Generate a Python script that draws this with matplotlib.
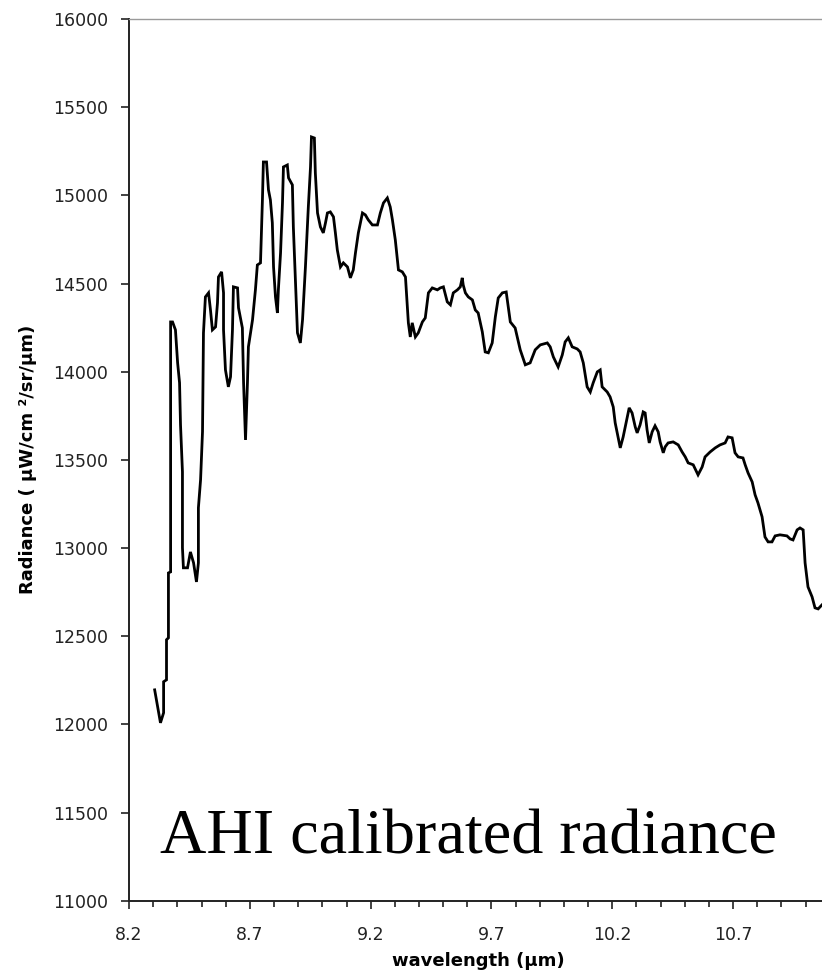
import matplotlib

matplotlib.use("Agg")
import matplotlib.pyplot as plt
from matplotlib.ticker import MultipleLocator

plt.rcParams.update({"font.family": ["DejaVu Sans"]})

# spectrum
wavelength = [
    8.306, 8.330, 8.343, 8.343, 8.355, 8.355, 8.363, 8.363, 8.372, 8.372,
    8.380, 8.392, 8.401, 8.409, 8.413, 8.421, 8.421, 8.425, 8.442, 8.454,
    8.467, 8.479, 8.487, 8.487, 8.496, 8.504, 8.508, 8.516, 8.529, 8.537,
    8.545, 8.558, 8.566, 8.570, 8.583, 8.591, 8.591, 8.599, 8.611, 8.620,
    8.628, 8.632, 8.649, 8.653, 8.669, 8.674, 8.682, 8.690, 8.694, 8.711,
    8.723, 8.731, 8.744, 8.752, 8.756, 8.769, 8.777, 8.785, 8.793, 8.798,
    8.806, 8.814, 8.818, 8.827, 8.835, 8.839, 8.855, 8.860, 8.876, 8.880,
    8.889, 8.897, 8.909, 8.918, 8.930, 8.942, 8.951, 8.955, 8.967, 8.971,
    8.980, 8.992, 9.004, 9.013, 9.021, 9.033, 9.046, 9.054, 9.062, 9.075,
    9.087, 9.104, 9.116, 9.128, 9.137, 9.149, 9.166, 9.178, 9.190, 9.207,
    9.228, 9.240, 9.253, 9.269, 9.281, 9.290, 9.302, 9.315, 9.331, 9.344,
    9.356, 9.364, 9.372, 9.385, 9.397, 9.414, 9.426, 9.439, 9.455, 9.476,
    9.488, 9.501, 9.517, 9.530, 9.542, 9.559, 9.571, 9.579, 9.583, 9.592,
    9.604, 9.621, 9.633, 9.645, 9.662, 9.674, 9.687, 9.703, 9.716, 9.728,
    9.745, 9.761, 9.778, 9.798, 9.819, 9.840, 9.860, 9.881, 9.902, 9.931,
    9.943, 9.956, 9.976, 9.993, 10.005, 10.018, 10.034, 10.055, 10.067, 10.080,
    10.096, 10.109, 10.121, 10.138, 10.150, 10.158, 10.179, 10.191, 10.204, 10.212,
    10.224, 10.233, 10.245, 10.262, 10.270, 10.282, 10.295, 10.303, 10.315, 10.328,
    10.336, 10.344, 10.353, 10.365, 10.377, 10.390, 10.398, 10.411, 10.419, 10.431,
    10.452, 10.473, 10.489, 10.502, 10.514, 10.535, 10.555, 10.572, 10.584, 10.605,
    10.626, 10.646, 10.667, 10.679, 10.696, 10.708, 10.721, 10.741, 10.750, 10.762,
    10.779, 10.791, 10.803, 10.820, 10.832, 10.845, 10.861, 10.874, 10.894, 10.923,
    10.936, 10.948, 10.965, 10.977, 10.990, 10.998, 11.010, 11.027, 11.039, 11.052,
    11.068,
]
radiance = [
    12196, 12009, 12066, 12242, 12253, 12480, 12491, 12859, 12865, 14282,
    14282, 14237, 14050, 13937, 13698, 13432, 13001, 12888, 12888, 12978,
    12916, 12808, 12916, 13228, 13387, 13659, 14220, 14424, 14447, 14350,
    14237, 14254, 14390, 14537, 14566, 14447, 14237, 14010, 13914, 13971,
    14237, 14481, 14475, 14362, 14248, 13937, 13613, 13937, 14141, 14294,
    14464, 14605, 14617, 14974, 15189, 15189, 15031, 14974, 14844, 14594,
    14424, 14333, 14464, 14673, 14957, 15161, 15172, 15099, 15059, 14821,
    14503, 14220, 14163, 14294, 14594, 14934, 15161, 15331, 15325, 15127,
    14900, 14821, 14787, 14844, 14900, 14906, 14878, 14787, 14690, 14594,
    14617, 14594, 14532, 14577, 14673, 14787, 14900, 14889, 14861, 14832,
    14832, 14900, 14957, 14985, 14934, 14861, 14747, 14577, 14566, 14537,
    14277, 14197, 14277, 14197, 14220, 14282, 14305, 14447, 14475, 14464,
    14475, 14481, 14396, 14379, 14447, 14464, 14481, 14532, 14492, 14447,
    14424, 14407, 14350, 14333, 14226, 14112, 14107, 14163, 14311, 14418,
    14447, 14452, 14282, 14248, 14124, 14039, 14050, 14124, 14152, 14163,
    14141, 14084, 14027, 14095, 14169, 14192, 14141, 14129, 14112, 14050,
    13914, 13885, 13937, 13999, 14010, 13914, 13885, 13857, 13800, 13710,
    13630, 13568, 13630, 13744, 13795, 13766, 13687, 13653, 13698, 13772,
    13766, 13670, 13596, 13659, 13693, 13659, 13602, 13540, 13574, 13596,
    13602, 13585, 13545, 13517, 13483, 13472, 13415, 13460, 13517, 13545,
    13568, 13585, 13596, 13630, 13625, 13540, 13517, 13511, 13472, 13426,
    13375, 13302, 13256, 13177, 13063, 13035, 13035, 13069, 13075, 13069,
    13052, 13046, 13103, 13114, 13103, 12916, 12780, 12723, 12661, 12655,
    12678,
]

x_ticks = [8.2, 8.7, 9.2, 9.7, 10.2, 10.7]
y_ticks = [11000, 11500, 12000, 12500, 13000, 13500, 14000, 14500, 15000, 15500, 16000]

fig = plt.figure(figsize=(8.22, 9.77), dpi=100, facecolor="white")
ax = fig.add_axes([0.157, 0.078, 0.843, 0.9026])

ax.plot(wavelength, radiance, color="black", linewidth=2.0, solid_joinstyle="miter")

ax.set_xlim(8.2, 11.068)
ax.set_ylim(11000, 16000)
ax.set_xticks(x_ticks)
ax.set_xticklabels([f"{v:.1f}" for v in x_ticks])
ax.xaxis.set_minor_locator(MultipleLocator(0.1))
ax.set_yticks(y_ticks)
ax.set_yticklabels([str(v) for v in y_ticks])

ax.spines["right"].set_visible(False)
ax.spines["top"].set_color("#9a9a9a")
ax.spines["top"].set_linewidth(1.0)
for side in ("left", "bottom"):
    ax.spines[side].set_color("#222222")
    ax.spines[side].set_linewidth(1.4)

ax.tick_params(axis="y", direction="out", length=6, width=1.2, color="#222222",
               labelsize=12.5, labelcolor="#222222", pad=9)
ax.tick_params(axis="x", which="major", direction="out", length=6, width=1.2,
               color="#222222", labelsize=12.5, labelcolor="#222222", pad=12)
ax.tick_params(axis="x", which="minor", direction="out", length=4, width=1.2, color="#222222")

ax.set_xlabel("wavelength (µm)", fontsize=13, fontweight="bold")
ax.xaxis.set_label_coords(0.504, -0.058)
ax.set_ylabel("Radiance ( µW/cm ²/sr/µm)", fontsize=13, fontweight="bold")
ax.yaxis.set_label_coords(-0.133, 0.5)

ax.text(0.045, 0.054, "AHI calibrated radiance", transform=ax.transAxes,
        fontsize=46.2, family=["Liberation Serif", "DejaVu Serif"], color="black",
        ha="left", va="baseline")

fig.savefig("out.png", dpi=100, facecolor="white")
